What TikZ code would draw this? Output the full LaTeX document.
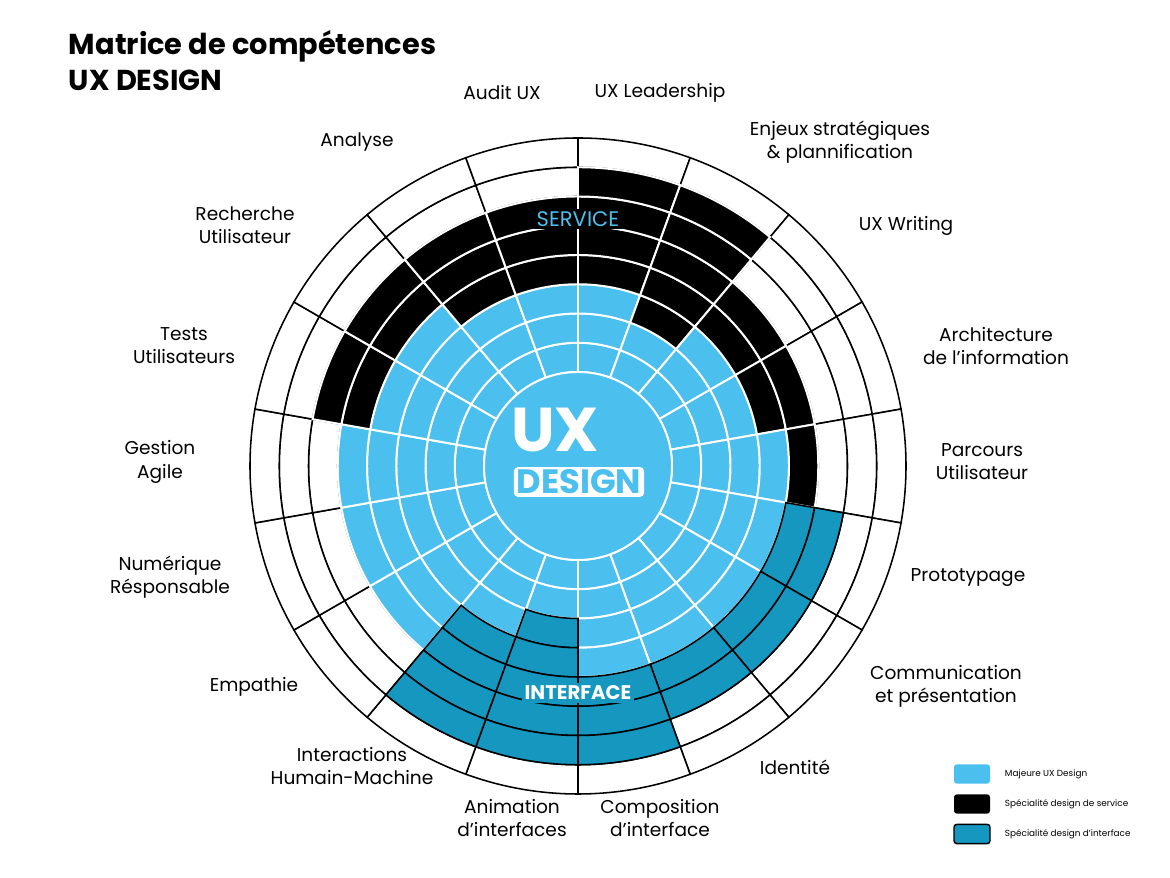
\documentclass[tikz,border=0pt]{standalone}
\usepackage{fontspec}
\setmainfont{Poppins}
\usetikzlibrary{positioning}

\definecolor{uxblue}{HTML}{4BBFEE}
\definecolor{uxteal}{HTML}{1597C0}

% One cell of the wheel: start angle, ring number, style
\newcommand{\ringcell}[3]{
    \pgfmathsetmacro\rin{94+29.25*(#2-1)}
    \pgfmathsetmacro\rout{94+29.25*#2}
    \path[#3] (#1:\rin) arc[start angle=#1, end angle=#1+20, radius=\rin]
        -- ({#1+20}:\rout) arc[start angle=#1+20, end angle=#1, radius=\rout] -- cycle;
}

\begin{document}
\begin{tikzpicture}[
    x=0.025cm, y=0.025cm,
    % Styles for the cells of the wheel
    emptycell/.style={fill=white, draw=black, line width=1.1pt},
    majorcell/.style={fill=uxblue, draw=white, line width=1.4pt},
    servicecell/.style={fill=black, draw=white, line width=1.4pt},
    interfacecell/.style={fill=uxteal, draw=black, line width=1.1pt},
    skill/.style={align=center, font=\fontsize{13.2}{16.5}\selectfont},
    legend/.style={font=\fontsize{6.3}{7}\selectfont, anchor=west},
    swatch/.style={rounded corners=2pt, minimum width=0.9cm, minimum height=0.48cm, inner sep=0pt}
]
\useasboundingbox (0,0) rectangle (1170,878);

% Title
\node[anchor=north west, align=left, font=\fontsize{20.5}{25}\selectfont\bfseries] (title) at (64,852)
    {Matrice de compétences\\UX DESIGN};

% The wheel, sector by sector: start angle / blue rings / dark rings / kind (1 service, 2 interface)
\begin{scope}[shift={(578,412)}]
\def\sectors{70/3/4/1, 50/2/5/1, 30/3/2/1, 10/3/2/1, -10/4/1/1, -30/4/2/2, -50/4/2/2, -70/4/2/2,
    -90/4/3/2, -110/2/5/2, -130/3/4/2, -150/5/0/2, -170/5/0/2, 170/5/0/2, 150/4/2/1, 130/4/2/1,
    110/3/3/1, 90/3/3/1}
% empty cells first
\foreach \s/\nb/\nd/\kind in \sectors {
    \pgfmathtruncatemacro\nn{\nb+\nd}
    \foreach \k in {1,...,8} {
        \ifnum\k>\nn \ringcell{\s}{\k}{emptycell}\fi
    }
}
% blue and service cells
\foreach \s/\nb/\nd/\kind in \sectors {
    \pgfmathtruncatemacro\nn{\nb+\nd}
    \foreach \k in {1,...,8} {
        \ifnum\k>\nb
            \ifnum\kind=1 \ifnum\k>\nn\else \ringcell{\s}{\k}{servicecell}\fi\fi
        \else
            \ringcell{\s}{\k}{majorcell}
        \fi
    }
}
% interface cells last
\foreach \s/\nb/\nd/\kind in \sectors {
    \pgfmathtruncatemacro\nn{\nb+\nd}
    \foreach \k in {1,...,8} {
        \ifnum\kind=2 \ifnum\k>\nb \ifnum\k>\nn\else \ringcell{\s}{\k}{interfacecell}\fi\fi\fi
    }
}
% centre
\fill[uxblue, draw=white, line width=1.4pt] (0,0) circle (94);
\node[anchor=base west, text=white, inner sep=0pt, font=\fontsize{44}{44}\selectfont\bfseries] (ux) at (-67,14) {UX};
\node[fill=white, rounded corners=3pt, inner sep=2pt, text=uxblue, font=\fontsize{24}{24}\selectfont\bfseries] (design) at (1,-16) {DESIGN};
\end{scope}

% Band labels
\node[fill=black, inner sep=2pt, text=uxblue, font=\fontsize{15}{15}\selectfont] (service) at (578,659) {SERVICE};
\node[fill=uxteal, inner sep=2pt, text=white, font=\fontsize{14}{14}\selectfont\bfseries] (interface) at (578,185) {INTERFACE};

% Skills around the wheel
\node[skill] (audit) at (502,785) {Audit UX};
\node[skill] (lead) at (660,785) {UX Leadership};
\node[skill] (enjeux) at (840,736) {Enjeux stratégiques\\\& plannification};
\node[skill] (writing) at (906,652) {UX Writing};
\node[skill] (archi) at (996,532) {Architecture\\de l’information};
\node[skill] (parcours) at (982,416) {Parcours\\Utilisateur};
\node[skill] (proto) at (968,300) {Prototypage};
\node[skill] (comm) at (946,192) {Communication\\et présentation};
\node[skill] (ident) at (795,111) {Identité};
\node[skill] (compo) at (660,60) {Composition\\d’interface};
\node[skill] (anim) at (512,60) {Animation\\d’interfaces};
\node[skill] (ihm) at (352,112) {Interactions\\Humain-Machine};
\node[skill] (empathie) at (254,191) {Empathie};
\node[skill] (numerique) at (170,301) {Numérique\\Résponsable};
\node[skill] (gestion) at (160,416) {Gestion\\Agile};
\node[skill] (tests) at (184,532) {Tests\\Utilisateurs};
\node[skill] (recherche) at (245,653) {Recherche\\Utilisateur};
\node[skill] (analyse) at (357,736) {Analyse};

% Legend
\node[swatch, fill=uxblue] (keymajor) at (972,104) {};
\node[swatch, fill=black] (keyservice) at (972,74) {};
\node[swatch, fill=uxteal, draw=black, line width=1pt] (keyinterface) at (972,44) {};
\node[legend] at (1000,104) {Majeure UX Design};
\node[legend] at (1000,74) {Spécialité design de service};
\node[legend] at (1000,44) {Spécialité design d’interface};
\end{tikzpicture}
\end{document}
